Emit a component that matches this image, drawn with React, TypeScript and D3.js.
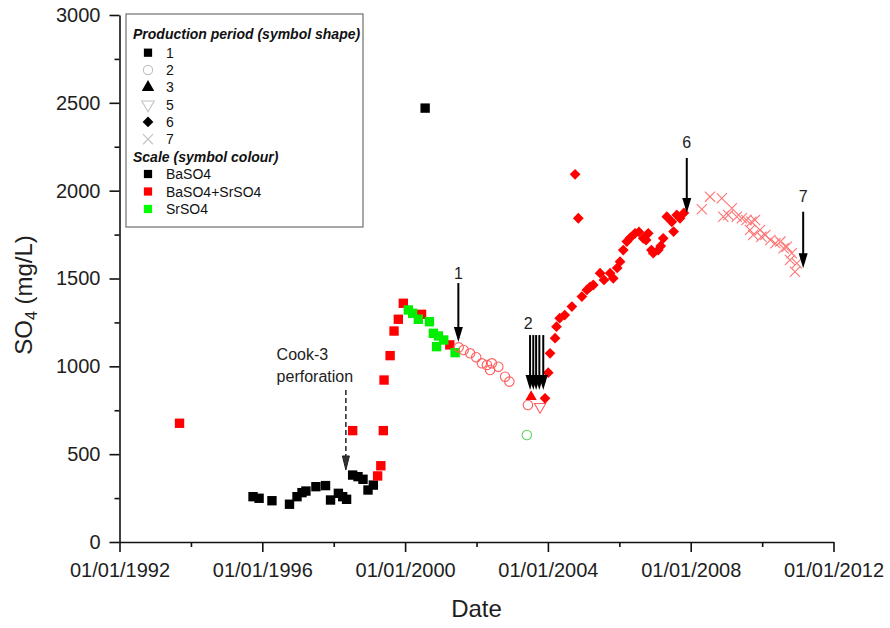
import React, { useEffect, useRef } from "react";
import * as d3 from "d3";

// [decimal year, SO4 mg/L]
const p1BaSO4: [number, number][] = [
  [1995.74, 258], [1995.91, 249], [1996.27, 235], [1996.76, 215], [1996.97, 258],
  [1997.11, 281], [1997.22, 290], [1997.5, 315], [1997.77, 321], [1997.91, 239],
  [1998.13, 277], [1998.25, 258], [1998.36, 243], [1998.53, 381], [1998.68, 372],
  [1998.82, 357], [1998.96, 296], [1999.11, 324], [2000.56, 2470],
];
const p1BaSr: [number, number][] = [
  [1993.68, 676], [1998.53, 634], [1999.39, 634], [1999.32, 434], [1999.23, 376],
  [1999.41, 922], [1999.58, 1061], [1999.69, 1201], [1999.81, 1268], [1999.95, 1359],
  [2000.46, 1296], [2001.25, 1122],
];
const p1Sr: [number, number][] = [
  [2000.09, 1321], [2000.21, 1302], [2000.37, 1268], [2000.68, 1254], [2000.79, 1188],
  [2000.93, 1173], [2000.88, 1112], [2001.08, 1150], [2001.4, 1078],
];
const p2BaSr: [number, number][] = [
  [2001.5, 1108], [2001.64, 1093], [2001.82, 1074], [2001.99, 1052], [2002.15, 1017],
  [2002.29, 1008], [2002.38, 979], [2002.43, 1017], [2002.61, 998], [2002.8, 941],
  [2002.92, 913], [2003.44, 780],
];
const p2Sr: [number, number][] = [[2003.41, 609]];
const p3BaSr: [number, number][] = [[2003.53, 827]];
const p5BaSr: [number, number][] = [[2003.78, 770]];
const p6BaSr: [number, number][] = [
  [2003.92, 818], [2004.01, 964], [2004.06, 1074], [2004.2, 1160], [2004.24, 1226],
  [2004.33, 1274], [2004.47, 1292], [2004.67, 1340], [2004.76, 2093], [2004.85, 1843],
  [2004.95, 1397], [2005.09, 1435], [2005.18, 1452], [2005.27, 1463], [2005.46, 1530],
  [2005.57, 1492], [2005.74, 1530], [2005.83, 1501], [2005.94, 1560], [2006.02, 1596],
  [2006.11, 1662], [2006.21, 1710], [2006.3, 1731], [2006.44, 1757], [2006.55, 1765],
  [2006.67, 1729], [2006.75, 1719], [2006.81, 1757], [2006.9, 1662], [2006.95, 1644],
  [2007.09, 1662], [2007.16, 1685], [2007.23, 1729], [2007.33, 1852], [2007.47, 1823],
  [2007.52, 1767], [2007.61, 1862], [2007.7, 1843], [2007.81, 1873],
];
const p7BaSr: [number, number][] = [
  [2008.31, 1894], [2008.54, 1966], [2008.87, 1957], [2008.91, 1852], [2009.05, 1862],
  [2009.15, 1900], [2009.29, 1852], [2009.43, 1843], [2009.56, 1833], [2009.7, 1823],
  [2009.8, 1833], [2009.66, 1776], [2009.75, 1748], [2009.94, 1776], [2009.98, 1738],
  [2010.09, 1748], [2010.23, 1719], [2010.37, 1700], [2010.51, 1710], [2010.6, 1672],
  [2010.69, 1681], [2010.83, 1644], [2010.78, 1605], [2010.92, 1539], [2010.97, 1587],
];

const yearTicks = [1992, 1996, 2000, 2004, 2008, 2012];
const yearMinor = [1994, 1998, 2002, 2006, 2010];
const so4Ticks = [0, 500, 1000, 1500, 2000, 2500, 3000];
const so4Minor = [250, 750, 1250, 1750, 2250, 2750];

const shapeLabels = ["1", "2", "3", "5", "6", "7"];
const scaleLabels = ["BaSO4", "BaSO4+SrSO4", "SrSO4"];

// production period change arrows
const arrows = [
  { label: "1", year: 2001.49, from: 1474, to: 1139, labelYear: 2001.49, labelAt: 1497 },
  { label: "", year: 2003.5, from: 1178, to: 865, labelYear: 0, labelAt: 0 },
  { label: "", year: 2003.59, from: 1178, to: 865, labelYear: 0, labelAt: 0 },
  { label: "", year: 2003.67, from: 1178, to: 865, labelYear: 0, labelAt: 0 },
  { label: "2", year: 2003.76, from: 1178, to: 865, labelYear: 2003.45, labelAt: 1212 },
  { label: "", year: 2003.87, from: 1178, to: 865, labelYear: 0, labelAt: 0 },
  { label: "6", year: 2007.89, from: 2186, to: 1873, labelYear: 2007.89, labelAt: 2243 },
  { label: "7", year: 2011.15, from: 1880, to: 1558, labelYear: 2011.15, labelAt: 1935 },
];
const cook3 = { year: 1998.34, from: 865, to: 410, textYear: 1996.4, lines: ["Cook-3", "perforation"], lineAt: [1036, 912] };

const FONT = "'Liberation Sans', Arial, Helvetica, sans-serif";
const RED = "#ff0000";
const GREEN = "#00ee00";

const toDate = (dec: number) => {
  const yr = Math.floor(dec);
  const a = new Date(yr, 0, 1).getTime();
  const b = new Date(yr + 1, 0, 1).getTime();
  return new Date(a + (dec - yr) * (b - a));
};

const shapePath = (shape: string, size: number) => {
  if (shape === "square" || shape === "diamond") return d3.symbol().type(d3.symbolSquare).size(size)();
  if (shape === "circle") return d3.symbol().type(d3.symbolCircle).size(size)();
  if (shape === "x") return d3.symbol().type((d3 as any).symbolTimes || (d3 as any).symbolX).size(size)();
  return d3.symbol().type(d3.symbolTriangle).size(size)();
};
const shapeRot = (shape: string) => (shape === "diamond" ? 45 : shape === "triangleDown" ? 180 : 0);

export default function App() {
  const ref = useRef<SVGSVGElement>(null);

  useEffect(() => {
    const svg = d3.select(ref.current);
    svg.selectAll("*").remove();

    const x = d3.scaleTime().domain([toDate(1992), toDate(2012)]).range([119.5, 833.5]);
    const y = d3.scaleLinear().domain([0, 3000]).range([542, 15]);

    const series = [
      { data: p1BaSO4, shape: "square", fill: "#000", stroke: "none", size: 88 },
      { data: p1BaSr, shape: "square", fill: RED, stroke: "none", size: 88 },
      { data: p1Sr, shape: "square", fill: GREEN, stroke: "none", size: 88 },
      { data: p2BaSr, shape: "circle", fill: "none", stroke: "#ff5e5e", size: 70 },
      { data: p2Sr, shape: "circle", fill: "none", stroke: "#5cd65c", size: 70 },
      { data: p3BaSr, shape: "triangle", fill: RED, stroke: "none", size: 55 },
      { data: p5BaSr, shape: "triangleDown", fill: "none", stroke: "#ff5e5e", size: 55 },
      { data: p6BaSr, shape: "diamond", fill: RED, stroke: "none", size: 58 },
      { data: p7BaSr, shape: "x", fill: "none", stroke: "#ff7474", size: 70 },
    ];

    // axes
    const xg = svg.append("g").attr("transform", "translate(0,542)")
      .call(d3.axisBottom(x).tickValues(yearTicks.map(toDate))
        .tickFormat(d3.timeFormat("%d/%m/%Y") as any).tickSize(10).tickSizeOuter(0).tickPadding(11));
    svg.append("g").attr("transform", "translate(0,542)")
      .call(d3.axisBottom(x).tickValues(yearMinor.map(toDate)).tickFormat(() => "").tickSize(5).tickSizeOuter(0))
      .call(g => g.select(".domain").remove());
    const yg = svg.append("g").attr("transform", "translate(119.5,0)")
      .call(d3.axisLeft(y).tickValues(so4Ticks).tickFormat(d3.format("d")).tickSize(10).tickSizeOuter(0).tickPadding(9));
    svg.append("g").attr("transform", "translate(119.5,0)")
      .call(d3.axisLeft(y).tickValues(so4Minor).tickFormat(() => "").tickSize(5).tickSizeOuter(0))
      .call(g => g.select(".domain").remove());
    svg.selectAll(".domain, .tick line").attr("stroke", "#111").attr("stroke-width", 1.6);
    [xg, yg].forEach(g => g.attr("font-size", 20).attr("font-family", FONT).selectAll("text").attr("fill", "#1e1e1e"));

    svg.append("text").attr("x", 476.5).attr("y", 617).attr("text-anchor", "middle")
      .attr("font-family", FONT).attr("font-size", 24).attr("fill", "#1e1e1e").text("Date");
    const yt = svg.append("text").attr("transform", "translate(32,295) rotate(-90)").attr("text-anchor", "middle")
      .attr("font-family", FONT).attr("font-size", 24).attr("fill", "#1e1e1e");
    yt.append("tspan").text("SO");
    yt.append("tspan").attr("font-size", 16).attr("dy", 5).text("4");
    yt.append("tspan").attr("dy", -5).text(" (mg/L)");

    // markers
    series.forEach(s => {
      svg.append("g").selectAll("path").data(s.data).enter().append("path")
        .attr("d", shapePath(s.shape, s.size))
        .attr("transform", d => `translate(${x(toDate(d[0]))},${y(d[1])}) rotate(${shapeRot(s.shape)})`)
        .attr("fill", s.fill).attr("stroke", s.stroke).attr("stroke-width", 1.1);
    });

    // arrows
    const ag = svg.append("g");
    arrows.forEach(a => {
      const ax = x(toDate(a.year));
      const tip = y(a.to);
      ag.append("line").attr("x1", ax).attr("x2", ax).attr("y1", y(a.from)).attr("y2", tip - 10)
        .attr("stroke", "#000").attr("stroke-width", 2);
      ag.append("path").attr("d", `M${ax - 4.5},${tip - 15}L${ax + 4.5},${tip - 15}L${ax},${tip}Z`).attr("fill", "#000");
      if (a.label) {
        ag.append("text").attr("x", x(toDate(a.labelYear))).attr("y", y(a.labelAt)).attr("text-anchor", "middle")
          .attr("font-family", FONT).attr("font-size", 16).attr("fill", "#222").text(a.label);
      }
    });
    const cx = x(toDate(cook3.year));
    const ctip = y(cook3.to);
    ag.append("line").attr("x1", cx).attr("x2", cx).attr("y1", y(cook3.from)).attr("y2", ctip - 12)
      .attr("stroke", "#222").attr("stroke-width", 1.5).attr("stroke-dasharray", "5,3");
    ag.append("path").attr("d", `M${cx - 3.5},${ctip - 14}L${cx + 3.5},${ctip - 14}L${cx},${ctip}Z`)
      .attr("fill", "#333").attr("stroke", "#222");
    cook3.lines.forEach((t, i) => {
      ag.append("text").attr("x", x(toDate(cook3.textYear))).attr("y", y(cook3.lineAt[i]))
        .attr("font-family", FONT).attr("font-size", 16).attr("fill", "#222").text(t);
    });

    // legend
    const lg = svg.append("g").attr("font-family", FONT).attr("fill", "#111");
    lg.append("rect").attr("x", 126).attr("y", 14).attr("width", 237).attr("height", 213)
      .attr("fill", "#fff").attr("stroke", "#7a7a7a").attr("stroke-width", 1.3);
    lg.append("text").attr("x", 133).attr("y", 39).attr("font-size", 14).attr("font-weight", "bold")
      .attr("font-style", "italic").text("Production period (symbol shape)");
    const legShapes = ["square", "circle", "triangle", "triangleDown", "diamond", "x"];
    const legOpen = [false, true, false, true, false, true];
    shapeLabels.forEach((lab, i) => {
      const cy = 52.7 + i * 17.3;
      lg.append("path").attr("d", shapePath(legShapes[i], legShapes[i] === "diamond" ? 58 : 68))
        .attr("transform", `translate(148,${cy}) rotate(${shapeRot(legShapes[i])})`)
        .attr("fill", legOpen[i] ? "none" : "#000").attr("stroke", legOpen[i] ? "#c2c2c2" : "none").attr("stroke-width", 1.1);
      lg.append("text").attr("x", 166).attr("y", cy + 5).attr("font-size", 14).text(lab);
    });
    lg.append("text").attr("x", 133).attr("y", 161.5).attr("font-size", 14).attr("font-weight", "bold")
      .attr("font-style", "italic").text("Scale (symbol colour)");
    const scaleColors = ["#000", RED, "#00ff00"];
    scaleLabels.forEach((lab, i) => {
      const cy = 174 + i * 17.5;
      lg.append("path").attr("d", shapePath("square", 68)).attr("transform", `translate(148,${cy})`).attr("fill", scaleColors[i]);
      lg.append("text").attr("x", 166).attr("y", cy + 5).attr("font-size", 14).text(lab);
    });
  }, []);

  return <svg ref={ref} width={890} height={628} style={{ position: "absolute", left: 0, top: 0, background: "#fff" }} />;
}
